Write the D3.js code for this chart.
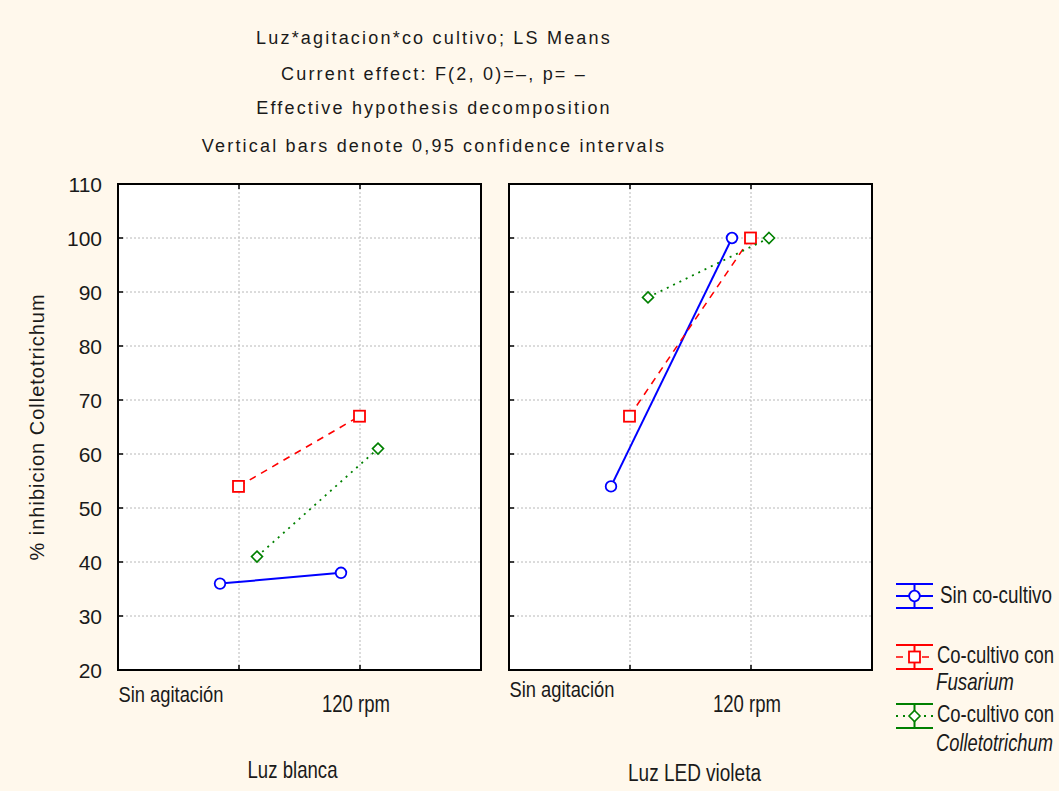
<!DOCTYPE html>
<html>
<head>
<meta charset="utf-8">
<script src="https://cdn.jsdelivr.net/npm/d3@7"></script>
<style>
  html, body { margin: 0; padding: 0; background: #fff8ec; }
  svg { display: block; }
  .sans { font-family: "Liberation Sans", Arial, sans-serif; }
</style>
</head>
<body>
<svg id="chart" width="1059" height="791"></svg>
<script>
// LS means of % inhibition, by light type (panel), agitation (x) and co-culture (series)
const panels = ["Luz blanca", "Luz LED violeta"];
const agitation = ["Sin agitación", "120 rpm"];
const seriesKeys = ["sin", "fus", "col"];
const seriesLabels = [["Sin co-cultivo"], ["Co-cultivo con", "Fusarium"], ["Co-cultivo con", "Colletotrichum"]];
// values per panel: [Sin agitación, 120 rpm]
const sinCoCultivo = [[36, 38], [54, 100]];
const fusarium = [[54, 67], [67, 100]];
const colletotrichum = [[41, 61], [89, 100]];
const yTicks = [20, 30, 40, 50, 60, 70, 80, 90, 100, 110];
const titleLines = [
  "Luz*agitacion*co cultivo; LS Means",
  "Current effect: F(2, 0)=–, p=  –",
  "Effective hypothesis decomposition",
  "Vertical bars denote 0,95 confidence intervals"
];
const yTitle = "% inhibicion Colletotrichum";

const seriesValues = [sinCoCultivo, fusarium, colletotrichum];
const styles = {
  sin: { color: "#0000ff", dash: null, width: 2, marker: "circle" },
  fus: { color: "#ff0000", dash: "7,6", width: 1.6, marker: "square" },
  col: { color: "#008000", dash: "2,5", width: 1.8, marker: "diamond" }
};

const svg = d3.select("#chart");
svg.append("rect").attr("width", 1059).attr("height", 791).attr("fill", "#fff8ec");

const plotTop = 184, plotBottom = 670;
const panelX = d3.scaleBand().domain(panels).range([118, 872]).paddingInner(28 / 391);
const y = d3.scaleLinear().domain([20, 110]).range([plotBottom, plotTop]);
const w = panelX.bandwidth();
const x = d3.scalePoint().domain(agitation).range([0, w]).padding(1);
const dx = d3.scalePoint().domain(seriesKeys).range([-19, 18]);

// condensed label text: a sans face squeezed horizontally to a narrow width
function narrowText(g, str, px, py, width, anchor, italic) {
  const t = g.append("text").attr("text-anchor", anchor || "start")
    .attr("font-style", italic ? "italic" : null).text(str);
  const natural = t.node().getComputedTextLength() || width;
  const sx = width / natural;
  t.attr("transform", `translate(${px},${py}) scale(${sx},1)`);
  return t;
}

// Title block
const title = svg.append("g").attr("class", "sans").attr("font-size", 18).attr("fill", "#1a1a1a");
title.selectAll("text").data(titleLines).join("text")
  .attr("x", 434).attr("y", (d, i) => [44, 80, 114, 152][i])
  .attr("text-anchor", "middle").attr("letter-spacing", 2.2).text(d => d);

function drawMarker(g, type, cx, cy, color) {
  if (type === "circle") {
    g.append("circle").attr("cx", cx).attr("cy", cy).attr("r", 5.3)
      .attr("fill", "#fff").attr("stroke", color).attr("stroke-width", 1.8);
  } else if (type === "square") {
    g.append("rect").attr("x", cx - 5.5).attr("y", cy - 5.5).attr("width", 11).attr("height", 11)
      .attr("fill", "#fff").attr("stroke", color).attr("stroke-width", 1.8);
  } else {
    g.append("path").attr("d", `M${cx},${cy - 5.5}L${cx + 5.5},${cy}L${cx},${cy + 5.5}L${cx - 5.5},${cy}Z`)
      .attr("fill", "#fff").attr("stroke", color).attr("stroke-width", 1.6);
  }
}

panels.forEach((p, pi) => {
  const g = svg.append("g").attr("transform", `translate(${panelX(p)},0)`);
  g.append("rect").attr("x", 0).attr("y", plotTop).attr("width", w).attr("height", plotBottom - plotTop)
    .attr("fill", "#fff");

  // dotted grid
  g.selectAll(".hg").data(yTicks.slice(1, -1)).join("line")
    .attr("x1", 0).attr("x2", w).attr("y1", d => y(d)).attr("y2", d => y(d))
    .attr("stroke", "#b8b8b8").attr("stroke-width", 1).attr("stroke-dasharray", "2,2");
  g.selectAll(".vg").data(agitation).join("line")
    .attr("x1", d => x(d)).attr("x2", d => x(d)).attr("y1", plotTop).attr("y2", plotBottom)
    .attr("stroke", "#b8b8b8").attr("stroke-width", 1).attr("stroke-dasharray", "2,2");

  // inner tick marks
  g.selectAll(".yt").data(yTicks).join("line")
    .attr("x1", 0).attr("x2", 5).attr("y1", d => y(d)).attr("y2", d => y(d))
    .attr("stroke", "#000").attr("stroke-width", 1.5);
  agitation.forEach(a => {
    g.append("line").attr("x1", x(a)).attr("x2", x(a)).attr("y1", plotTop).attr("y2", plotTop + 5)
      .attr("stroke", "#000").attr("stroke-width", 1.5);
    g.append("line").attr("x1", x(a)).attr("x2", x(a)).attr("y1", plotBottom - 5).attr("y2", plotBottom)
      .attr("stroke", "#000").attr("stroke-width", 1.5);
  });

  // series lines and markers
  seriesKeys.forEach((k, si) => {
    const st = styles[k];
    const vals = seriesValues[si][pi];
    const pts = agitation.map((a, ai) => [x(a) + dx(k), y(vals[ai])]);
    g.append("path").attr("d", d3.line()(pts)).attr("fill", "none")
      .attr("stroke", st.color).attr("stroke-width", st.width)
      .attr("stroke-dasharray", st.dash);
    pts.forEach(pt => drawMarker(g, st.marker, pt[0], pt[1], st.color));
  });

  // frame
  g.append("rect").attr("x", 0).attr("y", plotTop).attr("width", w).attr("height", plotBottom - plotTop)
    .attr("fill", "none").attr("stroke", "#000").attr("stroke-width", 2);

  // category labels
  const lab = g.append("g").attr("class", "sans").attr("font-size", 23).attr("fill", "#1a1a1a");
  narrowText(lab, agitation[0], x(agitation[0]) - 68, pi === 0 ? 702 : 697, 105, "middle");
  narrowText(lab, agitation[1], x(agitation[1]) - 4, 712, 68, "middle");
  narrowText(lab, p, w / 2 - (pi === 0 ? 7 : -4), pi === 0 ? 778 : 781, pi === 0 ? 90 : 133, "middle");
});

// y axis labels
const yl = svg.append("g").attr("class", "sans").attr("font-size", 21).attr("fill", "#1a1a1a");
yl.selectAll("text").data(yTicks).join("text")
  .attr("x", 102).attr("y", d => y(d) + 7.5).attr("text-anchor", "end").text(d => d);
svg.append("text").attr("class", "sans").attr("font-size", 20).attr("fill", "#1a1a1a")
  .attr("transform", "translate(44,427) rotate(-90)").attr("text-anchor", "middle")
  .attr("letter-spacing", 1).text(yTitle);

// legend
const legY = [596, 657, 716];
const lg = svg.append("g");
seriesKeys.forEach((k, i) => {
  const st = styles[k];
  const cy = legY[i], x0 = 896, x1 = 933, cx = 914.5;
  const top = cy - 12, bot = cy + 12;
  [top, bot].forEach(yy => lg.append("line").attr("x1", x0).attr("x2", x1).attr("y1", yy).attr("y2", yy)
    .attr("stroke", st.color).attr("stroke-width", 2));
  lg.append("line").attr("x1", cx).attr("x2", cx).attr("y1", top).attr("y2", bot)
    .attr("stroke", st.color).attr("stroke-width", 2);
  lg.append("line").attr("x1", x0).attr("x2", x1).attr("y1", cy).attr("y2", cy)
    .attr("stroke", st.color).attr("stroke-width", st.width).attr("stroke-dasharray", st.dash);
  drawMarker(lg, st.marker, cx, cy, st.color);
});
const legText = svg.append("g").attr("class", "sans").attr("font-size", 23).attr("fill", "#1a1a1a");
narrowText(legText, seriesLabels[0][0], 940, 603, 112);
narrowText(legText, seriesLabels[1][0], 937, 663, 117);
narrowText(legText, seriesLabels[1][1], 936, 690, 78, "start", true);
narrowText(legText, seriesLabels[2][0], 937, 722, 117);
narrowText(legText, seriesLabels[2][1], 936, 751, 117, "start", true);
</script>
</body>
</html>
